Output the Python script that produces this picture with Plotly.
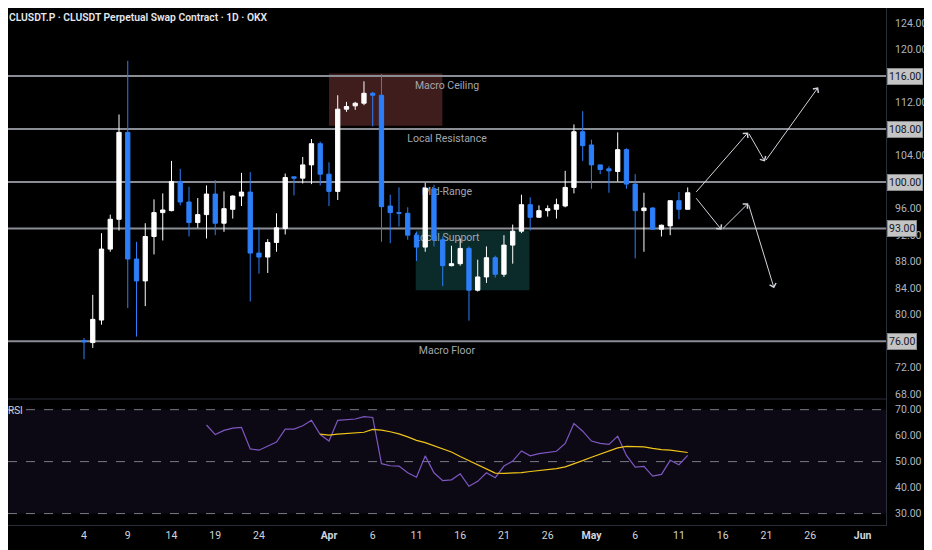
import pandas as pd
import plotly.graph_objects as go

# daily candles, Mar 4 -> May 12
DATES = pd.date_range("2025-03-04", "2025-05-12", freq="D")

OPEN = [76.1, 75.8, 79.2, 89.9, 94.4, 107.5, 88.4, 85.1, 91.8, 95.4,
        95.7, 100.1, 97.0, 93.9, 95.1, 98.2, 93.8, 95.9, 97.9, 98.5,
        89.3, 88.7, 90.9, 93.0, 100.8, 100.6, 102.6, 105.8, 101.2, 98.6,
        111.0, 111.5, 111.9, 113.4, 113.1, 96.4, 95.4, 95.3, 92.0, 90.2,
        99.0, 91.3, 87.4, 87.7, 90.0, 83.7, 85.7, 88.6, 86.1, 90.5,
        92.6, 96.6, 94.7, 95.7, 95.9, 96.4, 99.2, 107.6, 105.6, 102.6,
        102.0, 101.6, 104.9, 99.7, 95.7, 96.1, 92.9, 93.4, 97.2, 95.9]
HIGH = [76.5, 83.0, 92.3, 95.1, 110.2, 118.3, 91.0, 93.8, 97.4, 98.3,
        103.2, 102.0, 99.3, 97.6, 99.5, 100.3, 98.6, 98.0, 101.4, 101.5,
        93.2, 91.4, 95.3, 101.3, 100.8, 103.8, 106.5, 106.1, 103.0, 113.1,
        112.1, 112.1, 115.2, 113.6, 116.3, 98.1, 99.2, 96.2, 92.5, 99.9,
        99.6, 91.8, 90.4, 91.5, 90.3, 88.3, 90.3, 88.9, 92.0, 93.6,
        98.1, 97.7, 96.5, 96.5, 97.5, 101.7, 108.7, 110.7, 106.4, 102.6,
        102.4, 107.5, 105.1, 101.2, 98.4, 96.2, 93.6, 97.2, 98.5, 99.2]
LOW = [73.3, 75.0, 78.5, 89.5, 92.7, 81.0, 76.7, 81.3, 89.1, 91.2,
       95.6, 96.5, 91.8, 93.1, 91.5, 92.0, 92.5, 94.5, 96.4, 82.0,
       86.2, 86.3, 89.5, 92.1, 98.0, 99.8, 99.7, 99.5, 96.4, 97.3,
       110.6, 110.9, 111.6, 108.4, 91.0, 90.8, 93.3, 91.3, 88.1, 89.5,
       90.3, 84.3, 87.3, 87.4, 79.1, 83.5, 84.8, 85.6, 85.7, 87.7,
       92.3, 92.7, 94.6, 94.8, 94.5, 96.2, 98.3, 103.2, 99.0, 101.2,
       98.4, 100.1, 99.0, 88.5, 89.5, 92.85, 91.8, 92.0, 94.4, 95.9]
CLOSE = [75.9, 79.3, 89.9, 94.4, 107.5, 88.4, 85.1, 91.8, 95.4, 95.8,
         100.1, 97.0, 93.9, 95.1, 98.2, 93.8, 96.0, 97.9, 98.5, 89.3,
         88.7, 90.9, 93.1, 100.7, 100.6, 102.6, 105.8, 101.2, 98.6, 111.0,
         111.4, 111.9, 113.4, 113.1, 96.3, 95.4, 95.3, 92.0, 90.2, 99.1,
         91.3, 87.4, 87.7, 90.0, 83.7, 85.7, 88.6, 86.1, 90.5, 92.6,
         96.6, 94.7, 95.7, 96.0, 96.6, 99.2, 107.6, 105.5, 102.6, 101.9,
         101.7, 104.9, 99.7, 95.7, 96.1, 92.9, 93.5, 97.2, 95.9, 98.4]

# RSI (from Mar 18) and its moving average (from Mar 31)
RSI_DATES = pd.date_range("2025-03-18", "2025-05-12", freq="D")
RSI = [64.1, 60.4, 62.0, 62.9, 63.2, 54.9, 54.4, 55.9, 57.5, 62.5,
       62.5, 63.8, 65.9, 60.4, 57.9, 65.9, 66.1, 66.4, 67.3, 67.0,
       49.2, 48.4, 48.3, 45.7, 44.0, 52.2, 45.7, 42.7, 43.0, 45.3,
       40.5, 42.4, 45.7, 43.8, 48.3, 50.2, 54.1, 52.2, 53.1, 53.5,
       54.0, 57.0, 64.7, 61.7, 57.9, 57.0, 56.6, 59.8, 52.4, 47.9,
       48.2, 44.4, 45.1, 50.5, 48.8, 52.4]
MA_DATES = pd.date_range("2025-03-31", "2025-05-12", freq="D")
RSI_MA = [60.6, 60.2, 60.6, 60.8, 61.1, 61.3, 62.4, 62.1, 61.5, 60.7,
          59.5, 58.2, 57.3, 56.1, 54.8, 53.7, 52.0, 50.4, 48.7, 47.1,
          45.6, 45.5, 45.6, 45.8, 46.2, 46.5, 47.0, 47.3, 48.0, 49.1,
          50.4, 51.7, 53.0, 54.0, 55.3, 55.9, 55.9, 55.7, 55.1, 54.6,
          54.4, 54.0, 53.5]

# horizontal levels
LEVELS = [116, 108, 100, 93, 76]
LEVEL_NAMES = ["Macro Ceiling", "Local Resistance", "Mid-Range", "Local Support", "Macro Floor"]

# zones
ZONE_X0 = ["2025-04-01", "2025-04-10 22:00"]
ZONE_X1 = ["2025-04-13 23:00", "2025-04-23 22:00"]
ZONE_Y0 = [108.5, 83.7]
ZONE_Y1 = [116.4, 92.7]
ZONE_COLORS = ["#3f1d1d", "#0a2b29"]

# projected paths
UP_X = ["2025-05-12 20:00", "2025-05-18 22:00", "2025-05-20 20:00", "2025-05-26 22:00"]
UP_Y = [98.3, 107.5, 103.1, 114.3]
DOWN_X = ["2025-05-12 20:00", "2025-05-15 21:00", "2025-05-18 22:00", "2025-05-21 21:00"]
DOWN_Y = [97.8, 92.8, 96.8, 84.0]

TICK_DATES = ["2025-03-04", "2025-03-09", "2025-03-14", "2025-03-19", "2025-03-24",
              "2025-04-01", "2025-04-06", "2025-04-11", "2025-04-16", "2025-04-21",
              "2025-04-26", "2025-05-01", "2025-05-06", "2025-05-11", "2025-05-16",
              "2025-05-21", "2025-05-26", "2025-06-01"]
TICK_LABELS = ["4", "9", "14", "19", "24", "<b>Apr</b>", "6", "11", "16", "21",
               "26", "<b>May</b>", "6", "11", "16", "21", "26", "<b>Jun</b>"]

# price scale ticks (the level values get their own boxed label instead)
PRICE_TICKS = [68, 72, 80, 84, 88, 92, 96, 104, 112, 120, 124]
RSI_TICKS = [30, 40, 50, 60, 70]

X_RANGE = ["2025-02-23 07:30", "2025-06-03 16:00"]
PRICE_RANGE = [67.29, 126.26]
RSI_RANGE = [25.6, 74.1]
SPLIT = 0.2437

BLUE = "#2d7ff9"
GRID = "#2a2e39"
TXT = "#b2b5be"
FONT = "Roboto"

fig = go.Figure()

fig.add_trace(go.Candlestick(
    x=DATES, open=OPEN, high=HIGH, low=LOW, close=CLOSE,
    increasing=dict(line=dict(color="#ffffff", width=1), fillcolor="#ffffff"),
    decreasing=dict(line=dict(color=BLUE, width=1), fillcolor=BLUE),
    xaxis="x", yaxis="y", showlegend=False,
))

fig.add_trace(go.Scatter(x=RSI_DATES, y=RSI, mode="lines",
                         line=dict(color="#7e57c2", width=1.2),
                         xaxis="x", yaxis="y2", showlegend=False))
fig.add_trace(go.Scatter(x=MA_DATES, y=RSI_MA, mode="lines",
                         line=dict(color="#f0c419", width=1.2),
                         xaxis="x", yaxis="y2", showlegend=False))

# zones
for x0, x1, y0, y1, c in zip(ZONE_X0, ZONE_X1, ZONE_Y0, ZONE_Y1, ZONE_COLORS):
    fig.add_shape(type="rect", xref="x", yref="y", x0=x0, x1=x1, y0=y0, y1=y1,
                  fillcolor=c, line=dict(width=0), layer="below")

# level lines, data-referenced so they sit above the zones but under the candles
for lv, name in zip(LEVELS, LEVEL_NAMES):
    fig.add_shape(type="line", xref="x", yref="y", x0=X_RANGE[0], x1=X_RANGE[1], y0=lv, y1=lv,
                  line=dict(color="#8a8d94", width=2), layer="below",
                  label=dict(text=name, textposition="middle", yanchor="top",
                             padding=2, font=dict(color="#a3a6af", size=10.5, family=FONT)))
    fig.add_annotation(x=1, xref="paper", y=lv, yref="y", xanchor="left",
                       text=f"{lv:.2f}", showarrow=False, xshift=1,
                       bgcolor="#c4c4c4", bordercolor="#8a8a8a", borderwidth=1, borderpad=1,
                       font=dict(color="#131722", size=10.5, family=FONT))

# RSI band and guide lines
fig.add_shape(type="rect", xref="paper", yref="y2", x0=0, x1=1, y0=30, y1=70,
              fillcolor="rgba(126,87,194,0.1)", line=dict(width=0), layer="below")
for lv in [70, 50, 30]:
    fig.add_shape(type="line", xref="paper", yref="y2", x0=0, x1=1, y0=lv, y1=lv,
                  line=dict(color="#787b86", width=1, dash="dash"), layer="below")

# pane separator
fig.add_shape(type="line", xref="paper", yref="paper", x0=0, x1=1, y0=SPLIT, y1=SPLIT,
              line=dict(color=GRID, width=1))

# projection arrows
for xs, ys in [(UP_X, UP_Y), (DOWN_X, DOWN_Y)]:
    for i in range(len(xs) - 1):
        fig.add_annotation(x=xs[i + 1], y=ys[i + 1], ax=xs[i], ay=ys[i],
                           xref="x", yref="y", axref="x", ayref="y",
                           showarrow=True, arrowhead=4, arrowsize=1.3, arrowwidth=1,
                           arrowcolor="#d1d4dc", standoff=0, text="")

fig.add_annotation(x=0, xref="paper", y=1, yref="paper", xanchor="left", yanchor="top",
                   xshift=-1, yshift=-1, showarrow=False,
                   text="CLUSDT.P · CLUSDT Perpetual Swap Contract · 1D · OKX",
                   font=dict(color="#e6e8ee", size=10.3, family=FONT, weight=600))
fig.add_annotation(x=0, xref="paper", y=1, yref="y2 domain", xanchor="left", yanchor="top",
                   xshift=-2, yshift=-4, showarrow=False, text="RSI",
                   font=dict(color="#d1d4dc", size=10, family=FONT))

fig.update_layout(
    width=924, height=542,
    margin=dict(l=0, r=46, t=0, b=25),
    paper_bgcolor="#000000", plot_bgcolor="#000000",
    font=dict(family=FONT, color=TXT, size=10.5),
    showlegend=False,
    xaxis=dict(
        anchor="y2", range=X_RANGE,
        tickvals=TICK_DATES, ticktext=TICK_LABELS, tickfont=dict(color="#d1d4dc", size=10.5),
        showgrid=False, zeroline=False, showline=True, linecolor=GRID,
        rangeslider=dict(visible=False), ticks="",
    ),
    yaxis=dict(
        domain=[SPLIT, 1], side="right", range=PRICE_RANGE,
        tickvals=PRICE_TICKS, tickformat=".2f", showgrid=False, zeroline=False,
        showline=True, linecolor=GRID, ticks="", ticklabelstandoff=6,
    ),
    yaxis2=dict(
        domain=[0, SPLIT], side="right", range=RSI_RANGE,
        tickvals=RSI_TICKS, tickformat=".2f", showgrid=False, zeroline=False,
        showline=True, linecolor=GRID, ticks="", ticklabelstandoff=6,
    ),
)

fig.write_html("out.html")
